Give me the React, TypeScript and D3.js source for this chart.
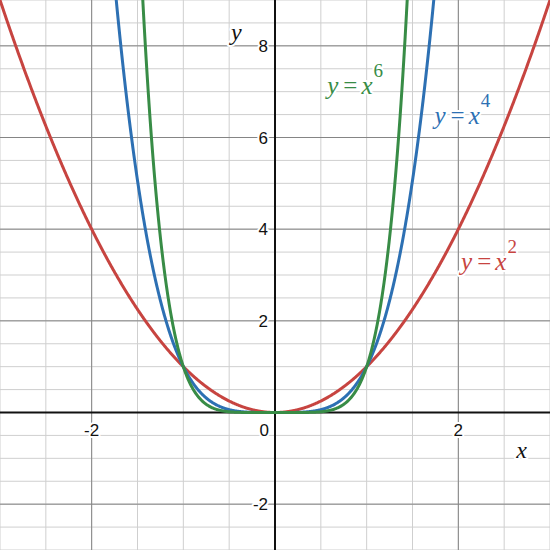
import React from "react";
import * as d3 from "d3";

const SIZE = 550;

const X_DOMAIN = [-3, 3];
const Y_DOMAIN = [-3, 9];
const X_TICKS = [-2, 2];
const Y_TICKS = [-2, 2, 4, 6, 8];
const MINOR_STEP = 0.5;
const MAJOR_STEP = 2;

// exponent of each curve y = x^n
const POWERS = [2, 4, 6];
const COLORS = ["#c74440", "#2d70b3", "#388c46"];
// where each curve's label sits, in data units
const LABEL_X = [2.03, 1.74, 0.57];
const LABEL_Y = [3.1, 6.3, 6.95];

const App = () => {
  const x = d3.scaleLinear().domain(X_DOMAIN).range([0, SIZE]);
  const y = d3.scaleLinear().domain(Y_DOMAIN).range([SIZE, 0]);

  const minorX = d3.range(X_DOMAIN[0], X_DOMAIN[1] + 0.001, MINOR_STEP);
  const minorY = d3.range(Y_DOMAIN[0], Y_DOMAIN[1] + 0.001, MINOR_STEP);
  const majorX = d3.range(-2, 3, MAJOR_STEP).filter((v) => v !== 0);
  const majorY = d3.range(-2, 9, MAJOR_STEP).filter((v) => v !== 0);

  const xs = d3.range(-3, 3.0001, 0.005);
  const line = d3
    .line<number[]>()
    .x((d) => x(d[0]))
    .y((d) => y(d[1]))
    .defined((d) => d[1] < 12);

  const halo = {
    stroke: "white",
    strokeWidth: 4,
    paintOrder: "stroke" as const,
    strokeLinejoin: "round" as const,
  };

  return (
    <svg
      width={SIZE}
      height={SIZE}
      style={{ position: "absolute", left: 0, top: 0, background: "white" }}
    >
      <rect width={SIZE} height={SIZE} fill="white" />
      <g>
        {minorX.map((v) => (
          <line key={"mx" + v} x1={x(v)} x2={x(v)} y1={0} y2={SIZE} stroke="#cfcfcf" strokeWidth={1} />
        ))}
        {minorY.map((v) => (
          <line key={"my" + v} y1={y(v)} y2={y(v)} x1={0} x2={SIZE} stroke="#cfcfcf" strokeWidth={1} />
        ))}
        {majorX.map((v) => (
          <line key={"Mx" + v} x1={x(v)} x2={x(v)} y1={0} y2={SIZE} stroke="#858585" strokeWidth={1} />
        ))}
        {majorY.map((v) => (
          <line key={"My" + v} y1={y(v)} y2={y(v)} x1={0} x2={SIZE} stroke="#858585" strokeWidth={1} />
        ))}
      </g>
      <line x1={x(0)} x2={x(0)} y1={0} y2={SIZE} stroke="#111" strokeWidth={2} />
      <line y1={y(0)} y2={y(0)} x1={0} x2={SIZE} stroke="#111" strokeWidth={2} />

      <g fontFamily="'Liberation Sans', Arial, sans-serif" fontSize={17} fill="#111" style={halo}>
        {X_TICKS.map((v) => (
          <text key={"xt" + v} x={x(v)} y={y(0) + 23} textAnchor="middle">
            {v < 0 ? "-" + Math.abs(v) : v}
          </text>
        ))}
        <text x={x(0) - 6} y={y(0) + 23} textAnchor="end">0</text>
        {Y_TICKS.map((v) => (
          <text key={"yt" + v} x={x(0) - 7} y={y(v) + 6} textAnchor="end">
            {v < 0 ? "-" + Math.abs(v) : v}
          </text>
        ))}
      </g>

      <g fill="none" strokeWidth={3} strokeLinejoin="round">
        {POWERS.map((p, i) => (
          <path
            key={"c" + p}
            d={line(xs.map((v) => [v, Math.pow(v, p)])) || ""}
            stroke={COLORS[i]}
          />
        ))}
      </g>

      <g fontFamily="'Liberation Serif', 'Times New Roman', serif" style={halo}>
        <text x={x(0) - 44} y={y(8) - 6} fontSize={24} fontStyle="italic" fill="#111">y</text>
        <text x={x(2.6) + 3} y={y(0) + 45} fontSize={24} fontStyle="italic" fill="#111">x</text>
        {POWERS.map((p, i) => (
          <text key={"l" + p} x={x(LABEL_X[i])} y={y(LABEL_Y[i])} fontSize={25} fill={COLORS[i]}>
            <tspan fontStyle="italic">y</tspan>
            <tspan dx={5}>=</tspan>
            <tspan dx={4} fontStyle="italic">x</tspan>
            <tspan dx={1} dy={-17} fontSize={19}>{p}</tspan>
          </text>
        ))}
      </g>
    </svg>
  );
};

export default App;
